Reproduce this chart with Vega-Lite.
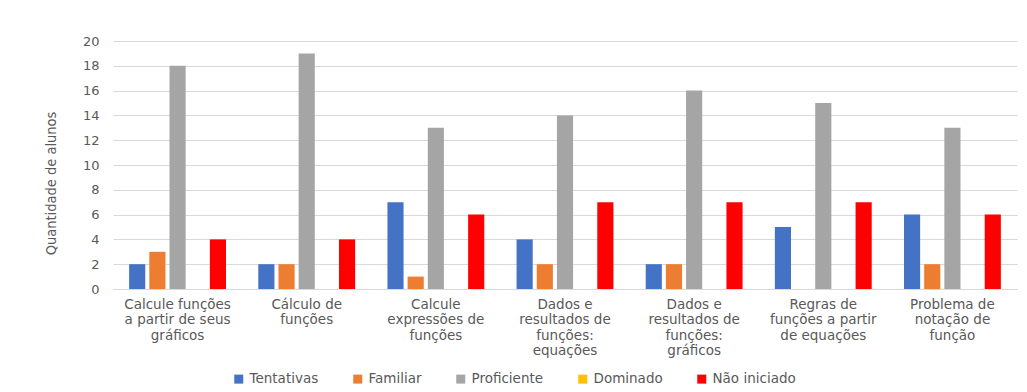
{
  "$schema": "https://vega.github.io/schema/vega-lite/v6.json",
  "width": 904,
  "height": 248,
  "autosize": {"type": "none"},
  "padding": {"left": 113, "top": 41, "right": 10, "bottom": 103},
  "background": "white",
  "config": {
    "view": {"stroke": null},
    "font": "DejaVu Sans"
  },
  "data": {
    "values": [
      {"cat": "Calcule funções|a partir de seus|gráficos", "serie": "Tentativas", "valor": 2},
      {"cat": "Calcule funções|a partir de seus|gráficos", "serie": "Familiar", "valor": 3},
      {"cat": "Calcule funções|a partir de seus|gráficos", "serie": "Proficiente", "valor": 18},
      {"cat": "Calcule funções|a partir de seus|gráficos", "serie": "Dominado", "valor": 0},
      {"cat": "Calcule funções|a partir de seus|gráficos", "serie": "Não iniciado", "valor": 4},
      {"cat": "Cálculo de|funções", "serie": "Tentativas", "valor": 2},
      {"cat": "Cálculo de|funções", "serie": "Familiar", "valor": 2},
      {"cat": "Cálculo de|funções", "serie": "Proficiente", "valor": 19},
      {"cat": "Cálculo de|funções", "serie": "Dominado", "valor": 0},
      {"cat": "Cálculo de|funções", "serie": "Não iniciado", "valor": 4},
      {"cat": "Calcule|expressões de|funções", "serie": "Tentativas", "valor": 7},
      {"cat": "Calcule|expressões de|funções", "serie": "Familiar", "valor": 1},
      {"cat": "Calcule|expressões de|funções", "serie": "Proficiente", "valor": 13},
      {"cat": "Calcule|expressões de|funções", "serie": "Dominado", "valor": 0},
      {"cat": "Calcule|expressões de|funções", "serie": "Não iniciado", "valor": 6},
      {"cat": "Dados e|resultados de|funções:|equações", "serie": "Tentativas", "valor": 4},
      {"cat": "Dados e|resultados de|funções:|equações", "serie": "Familiar", "valor": 2},
      {"cat": "Dados e|resultados de|funções:|equações", "serie": "Proficiente", "valor": 14},
      {"cat": "Dados e|resultados de|funções:|equações", "serie": "Dominado", "valor": 0},
      {"cat": "Dados e|resultados de|funções:|equações", "serie": "Não iniciado", "valor": 7},
      {"cat": "Dados e|resultados de|funções:|gráficos", "serie": "Tentativas", "valor": 2},
      {"cat": "Dados e|resultados de|funções:|gráficos", "serie": "Familiar", "valor": 2},
      {"cat": "Dados e|resultados de|funções:|gráficos", "serie": "Proficiente", "valor": 16},
      {"cat": "Dados e|resultados de|funções:|gráficos", "serie": "Dominado", "valor": 0},
      {"cat": "Dados e|resultados de|funções:|gráficos", "serie": "Não iniciado", "valor": 7},
      {"cat": "Regras de|funções a partir|de equações", "serie": "Tentativas", "valor": 5},
      {"cat": "Regras de|funções a partir|de equações", "serie": "Familiar", "valor": 0},
      {"cat": "Regras de|funções a partir|de equações", "serie": "Proficiente", "valor": 15},
      {"cat": "Regras de|funções a partir|de equações", "serie": "Dominado", "valor": 0},
      {"cat": "Regras de|funções a partir|de equações", "serie": "Não iniciado", "valor": 7},
      {"cat": "Problema de|notação de|função", "serie": "Tentativas", "valor": 6},
      {"cat": "Problema de|notação de|função", "serie": "Familiar", "valor": 2},
      {"cat": "Problema de|notação de|função", "serie": "Proficiente", "valor": 13},
      {"cat": "Problema de|notação de|função", "serie": "Dominado", "valor": 0},
      {"cat": "Problema de|notação de|função", "serie": "Não iniciado", "valor": 6}
    ]
  },
  "mark": {"type": "bar"},
  "encoding": {
    "x": {
      "field": "cat",
      "type": "nominal",
      "sort": null,
      "scale": {"paddingInner": 0.25, "paddingOuter": 0.125},
      "axis": {
        "title": null,
        "labelAngle": 0,
        "labelExpr": "split(datum.label, '|')",
        "labelFontSize": 13.5,
        "labelColor": "#595959",
        "labelLineHeight": 15.5,
        "labelPadding": 8,
        "labelLimit": 200,
        "labelOverlap": false,
        "ticks": false,
        "domainColor": "#d9d9d9",
        "domainWidth": 1
      }
    },
    "xOffset": {
      "field": "serie",
      "type": "nominal",
      "scale": {"domain": ["Tentativas", "Familiar", "Proficiente", "Dominado", "Não iniciado"], "paddingInner": 0.2}
    },
    "y": {
      "field": "valor",
      "type": "quantitative",
      "scale": {"domain": [0, 20]},
      "axis": {
        "title": "Quantidade de alunos",
        "titleFont": "DejaVu Sans Condensed",
        "titleFontWeight": "normal",
        "titleFontSize": 14.5,
        "titleColor": "#595959",
        "titleX": -55,
        "titleY": 142,
        "values": [0, 2, 4, 6, 8, 10, 12, 14, 16, 18, 20],
        "labelOverlap": false,
        "labelFontSize": 13,
        "labelColor": "#595959",
        "labelPadding": 14,
        "ticks": false,
        "domain": false,
        "gridColor": "#d9d9d9",
        "gridWidth": 1
      }
    },
    "color": {
      "field": "serie",
      "type": "nominal",
      "scale": {
        "domain": ["Tentativas", "Familiar", "Proficiente", "Dominado", "Não iniciado"],
        "range": ["#4472C4", "#ED7D31", "#A5A5A5", "#FFC000", "#FF0000"]
      },
      "legend": {
        "title": null,
        "orient": "none",
        "direction": "horizontal",
        "legendX": 119,
        "legendY": 331,
        "symbolType": "square",
        "symbolSize": 81,
        "symbolStrokeWidth": 0,
        "labelFontSize": 13.5,
        "labelColor": "#595959",
        "columnPadding": 32,
        "labelOffset": 4
      }
    }
  }
}
